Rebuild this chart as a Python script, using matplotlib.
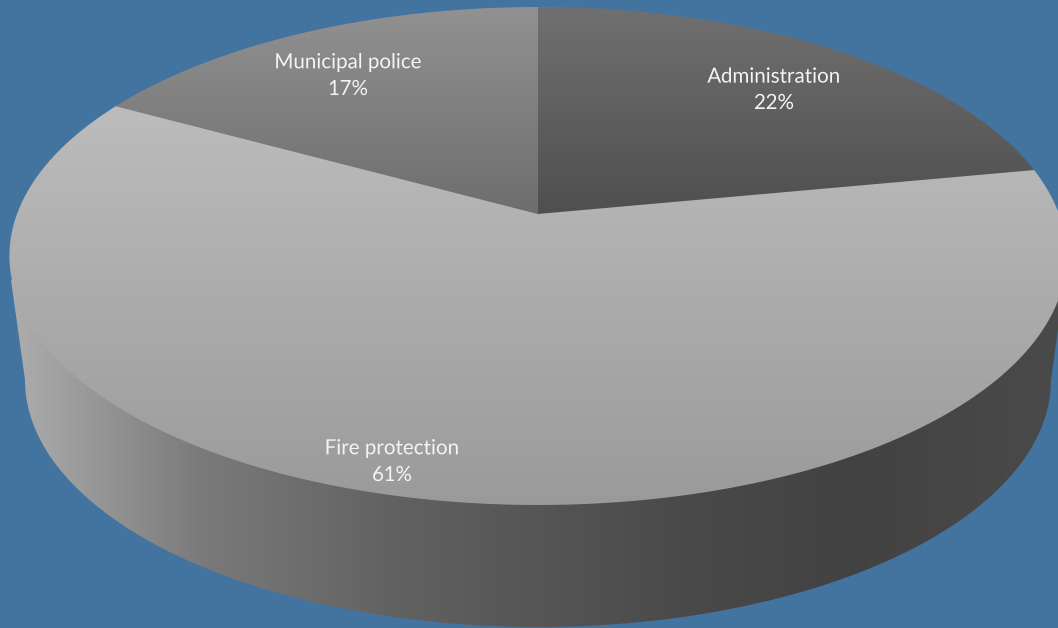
import numpy as np
import matplotlib
matplotlib.use("Agg")
import matplotlib.pyplot as plt
from matplotlib.patches import PathPatch
from matplotlib.path import Path

# --- Data ---
CATEGORIES = ["Administration", "Fire protection", "Municipal police"]
SHARES = [22, 61, 17]

# --- Style ---
BACKGROUND = "#43739f"
TEXT_COLOR = "#f4f4f4"
LABEL_POS = [(774, 90), (392, 462), (348, 76)]

# vertical shading of each slice top: (y pixel, gray level)
TOP_SHADES = [
    ([7, 214], [0.44, 0.31]),
    ([100, 505], [0.74, 0.605]),
    ([7, 214], [0.57, 0.43]),
]
# horizontal shading of the rim: (x pixel, gray level)
RIM_X = [10, 50, 200, 400, 540, 700, 850, 1058]
RIM_GRAY = [0.68, 0.64, 0.48, 0.38, 0.335, 0.285, 0.26, 0.29]

W, H = 1058, 628
SUPERSAMPLE = 3

# Perspective of the pie plane, centre of the pie sits at (CX, CY)
CX, CY = 538, 214
SCALE_X, SCALE_Y, TILT = 521.0, 241.9, 0.1687

# Lower rim ellipse
RIM_CY, RIM_A, RIM_B = 380, 513, 247


def project(theta):
    """Clockwise angle from 12 o'clock -> pixel coordinates on the pie top."""
    u, v = np.sin(theta), np.cos(theta)
    d = 1 + TILT * v
    return CX + SCALE_X * u / d, CY - SCALE_Y * v / d


def slice_path(start, end):
    t = np.linspace(start, end, 200)
    x, y = project(t)
    xs = np.r_[CX, x, CX]
    ys = np.r_[CY, y, CY]
    return Path(np.column_stack([xs, ys]), closed=True)


def shaded(ax, path, gray, zorder):
    """Paint a gradient image clipped to path."""
    im = ax.imshow(gray[..., None].repeat(3, axis=2).clip(0, 1),
                   extent=(0, W, H, 0), aspect="auto", zorder=zorder,
                   interpolation="bilinear")
    patch = PathPatch(path, transform=ax.transData, fc="none", ec="none")
    ax.add_patch(patch)
    im.set_clip_path(patch)


fig = plt.figure(figsize=(W / 100, H / 100), dpi=100 * SUPERSAMPLE, facecolor=BACKGROUND)
ax = fig.add_axes([0, 0, 1, 1])
ax.axis("off")

# rim: outline runs down the left tangent, round the lower ellipse, up the right
t = np.linspace(np.pi, 0, 300)
rim_x = CX + RIM_A * np.cos(t)
rim_y = RIM_CY + RIM_B * np.sin(t)
rim_outline = np.column_stack([np.r_[11, rim_x, 1062, CX],
                               np.r_[280, rim_y, 300, 300]])
rim_levels = np.interp(np.arange(W) + 0.5, RIM_X, RIM_GRAY)
shaded(ax, Path(rim_outline, closed=True),
       np.tile(rim_levels, (H, 1)), 1)

# slice tops
rows = np.arange(H) + 0.5
start = 0.0
for share, (ys, grays), name, pos in zip(SHARES, TOP_SHADES, CATEGORIES, LABEL_POS):
    end = start + 2 * np.pi * share / sum(SHARES)
    levels = np.interp(rows, ys, grays)
    shaded(ax, slice_path(start, end), np.tile(levels[:, None], (1, W)), 2)
    ax.text(pos[0], pos[1], f"{name}\n{share}%", color=TEXT_COLOR,
            family="Lato", fontsize=14.8, ha="center", va="center",
            linespacing=1.5, zorder=3)
    start = end

ax.set_xlim(0, W)
ax.set_ylim(H, 0)

# render large and average down so clipped edges come out smooth
fig.canvas.draw()
buf = np.asarray(fig.canvas.buffer_rgba())[..., :3].astype(float)
s = SUPERSAMPLE
small = buf[:H * s, :W * s].reshape(H, s, W, s, 3).mean(axis=(1, 3))
plt.imsave("out.png", small.round().astype(np.uint8))
